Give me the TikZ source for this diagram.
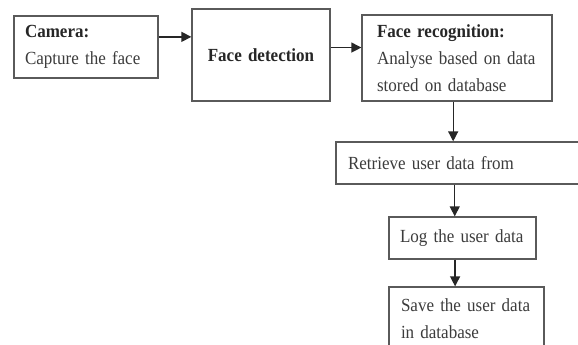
\documentclass[tikz,border=0pt]{standalone}
\usepackage{fontspec}
\setmainfont{Liberation Serif}[FakeStretch=0.92, WordSpace=0.8]
\usetikzlibrary{calc}
\usetikzlibrary{arrows.meta}
\definecolor{boxgray}{HTML}{5A5A5A}
\definecolor{textgray}{HTML}{3C3C3C}
\newcommand{\stagehead}[1]{\textcolor{black!85}{\textbf{#1}}}

\begin{document}
\begin{tikzpicture}[x=1pt, y=1pt,
            stage/.style={draw=boxgray, line width=1.3pt, inner xsep=12pt, inner ysep=0pt,
                align=left, text=textgray, font=\fontsize{18.5}{27}\selectfont},
            flow/.style={draw=black!85, line width=1.3pt, -{Triangle[length=10pt,width=10pt]}}]
            \clip (0,0) rectangle (578,-345);
            \fill[white] (0,0) rectangle (578,-345);
            \node[stage, minimum width=144pt, minimum height=62pt, text width=122pt, inner xsep=11pt] (cam) at (86,-47) {\stagehead{Camera:}\\\mbox{Capture the face}};
            \node[stage, minimum width=138pt, minimum height=92pt, text width=114pt, align=center] (det) at (261,-55) {\stagehead{Face detection}};
            \node[stage, minimum width=190pt, minimum height=86pt, text width=160pt, inner xsep=15pt] (rec) at (457,-58) {\stagehead{Face recognition:}\\\mbox{Analyse based on data}\\\mbox{stored on database}};
            \node[stage, minimum width=264pt, minimum height=42pt, text width=240pt] (ret) at (468,-163) {\mbox{Retrieve user data from}};
            \node[stage, minimum width=147pt, minimum height=42pt, text width=125pt, inner xsep=11pt] (log) at (462.5,-238) {\mbox{Log the user data}};
            \node[stage, minimum width=155pt, minimum height=63pt, text width=131pt, inner xsep=12pt] (save) at (466.5,-318.5) {\mbox{Save the user data}\\\mbox{in database}};
            \coordinate (cam out) at ($(cam.north east)!.34!(cam.south east)$);
            \coordinate (det out) at ($(det.north east)!.42!(det.south east)$);
            \coordinate (rec out) at ($(rec.south west)!.48!(rec.south east)$);
            \coordinate (ret out) at ($(ret.south west)!.45!(ret.south east)$);
            \coordinate (log out) at ($(log.south west)!.45!(log.south east)$);
            \draw[flow] (cam out) -- (cam out -| det.west);
            \draw[flow] (det out) -- (det out -| rec.west);
            \draw[flow] (rec out) -- (rec out |- ret.north);
            \draw[flow] (ret out) -- (ret out |- log.north);
            \draw[flow] (log out) -- (log out |- save.north);
        \end{tikzpicture}
\end{document}
